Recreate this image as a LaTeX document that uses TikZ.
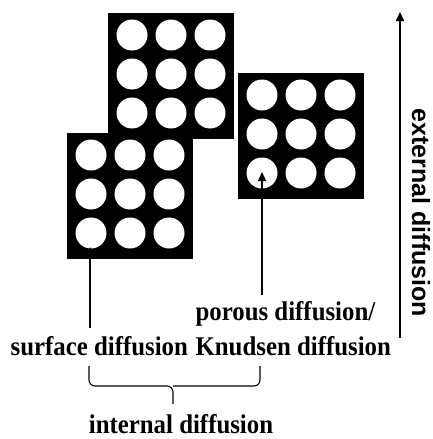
\documentclass[tikz,border=0pt]{standalone}
\usepackage{fontspec}
\usetikzlibrary{arrows.meta}

\newfontfamily\labelfont{Liberation Serif}[FakeStretch=0.92]
\newfontfamily\extfont{Liberation Sans}

\newcommand{\poreblock}[3]{%
  \node[block, anchor=north west] (#1) at (#2,#3) {};
  \foreach \cx in {24,63,102}
    \foreach \cy in {22,61,100}
      \fill[white] ([shift={(\cx,\cy)}]#1.north west) circle (15.5);
}

\begin{document}
\begin{tikzpicture}[x=1pt, y=-1pt, line width=1.2pt,
    block/.style={fill=black, draw=black, line width=0.4pt, minimum width=125pt, minimum height=125pt, inner sep=0pt},
    lbl/.style={font=\labelfont\bfseries\fontsize{27}{29}\selectfont, inner sep=0pt},
    tip/.style={-{Triangle[length=9pt, width=8pt]}}]

            \useasboundingbox (0,0) rectangle (433,439);

            \poreblock{upper}{108}{13}
            \poreblock{lower}{67}{133}
            \poreblock{single}{238}{73}

            \node[lbl, anchor=base west] (sd) at (10,355) {surface diffusion};
            \node[lbl, anchor=base west] (pd) at (195,320) {porous diffusion/};
            \node[lbl, anchor=base west] (kd) at (195,355) {Knudsen diffusion};
            \node[lbl, anchor=base] (id) at (181,433) {internal diffusion};

            \coordinate (sdFoot) at (90,328);
            \coordinate (sdTip) at (90,247);
            \coordinate (pdFoot) at (262,295);
            \coordinate (pdTip) at (262,172);
            \draw[tip] (sdFoot) -- (sdTip);
            \draw[tip] (pdFoot) -- (pdTip);

            \coordinate (braceL) at (89,366);
            \coordinate (braceR) at (260,366);
            \coordinate (braceM) at (173,386);
            \coordinate (braceT) at (173,404);
            \draw[line width=1.1pt, rounded corners=6pt] (braceL) |- (braceM) -- (braceT);
            \draw[line width=1.1pt, rounded corners=6pt] (braceR) |- (braceM);

            \coordinate (extFoot) at (400,338);
            \coordinate (extTip) at (400,12);
            \draw[tip, line width=1.6pt] (extFoot) -- (extTip);
            \node[rotate=-90, font=\extfont\bfseries\fontsize{25}{27}\selectfont, inner sep=0pt] (ext) at (421,213) {external diffusion};

        \end{tikzpicture}
\end{document}
